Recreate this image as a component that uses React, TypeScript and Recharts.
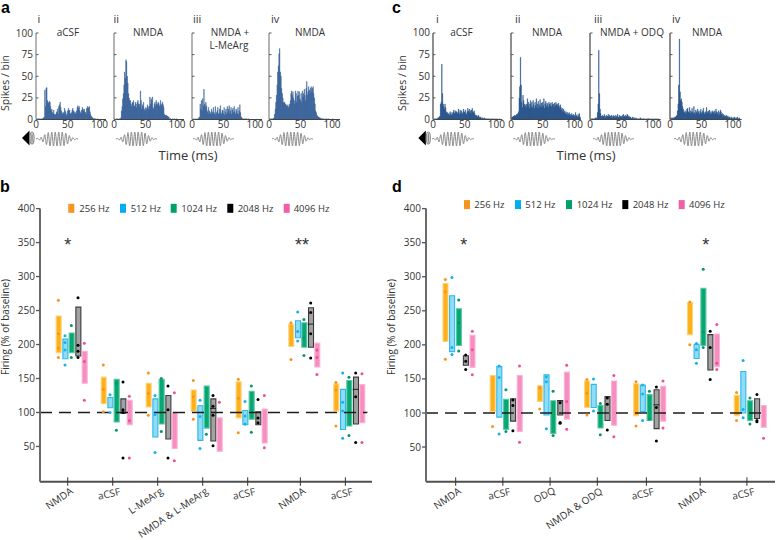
import React from "react";
import { BarChart, Bar, ComposedChart, Cell, LineChart, Line, Scatter, XAxis, YAxis, ReferenceLine } from "recharts";

const FONT = "'Open Sans', sans-serif";
const AXIS = "#595959";

// ---------- histogram data (spikes per 1 ms bin) ----------
const histAi = [0,0,1,0,1,0,1,0,1,0,1,1,2,3,34,15,36,37,22,20,19,21,20,15,10,12,8,7,11,6,5,6,8,9,12,6,15,17,20,14,10,8,6,8,7,13,10,8,5,6,10,13,10,11,7,6,8,11,13,10,9,7,8,6,10,14,16,13,15,10,8,7,11,14,12,10,12,9,8,6,13,15,13,14,15,9,6,4,3,2,1,1,1,0,1,0,0,1,0,0,0,0,0,0,0];
const histAii = [0,1,0,0,1,0,1,0,0,1,1,2,10,15,24,30,40,55,48,69,67,50,42,30,25,22,22,18,15,20,19,22,16,15,20,18,14,20,22,18,15,18,33,22,12,17,15,20,12,10,14,11,13,17,15,12,15,26,18,24,22,26,14,12,18,20,16,22,18,17,20,19,15,17,22,16,18,20,17,14,6,5,5,5,4,4,3,3,1,1,1,0,0,1,0,0,1,0,0,1,0,0,0,0,0];
const histAiii = [0,0,1,0,0,1,0,0,1,0,1,2,3,18,12,22,10,24,16,35,18,14,20,16,10,8,14,6,10,8,6,12,9,7,14,8,6,15,5,8,10,14,7,6,12,16,8,6,11,10,7,14,5,9,12,6,15,8,12,16,7,10,14,6,11,13,8,15,9,6,12,10,7,14,6,10,17,8,3,2,1,1,0,1,0,1,0,1,0,0,1,0,0,0,0,0,0,0,0,0];
const histAiv = [1,0,1,0,1,0,1,1,2,6,12,20,28,40,55,62,76,82,55,50,36,30,25,20,19,20,18,17,16,15,17,14,15,18,22,30,33,28,32,25,22,18,33,30,20,27,33,28,32,24,22,30,20,33,26,30,35,28,22,36,44,28,32,38,34,30,36,38,32,36,38,30,25,18,10,8,5,4,3,3,2,2,1,1,1,1,0,1,0,0,1,0,1,0,0,1,0,0,0,0,0,1,0,0,0];
const histCi = [0,0,1,0,1,0,1,1,2,2,3,4,18,20,64,30,18,15,12,18,14,9,7,8,6,7,5,9,7,5,8,6,9,11,7,8,10,9,8,7,12,9,6,11,7,10,8,6,12,9,8,11,7,6,9,13,10,8,12,10,7,11,13,9,8,10,7,5,4,5,3,4,5,3,2,3,2,1,2,1,1,2,1,1,0,1,1,0,1,0,1,0,0,1,0,1,0,0,1,0,0,1,0,0,0,1,0,0,0,0];
const histCii = [1,2,3,3,4,4,5,4,5,6,6,7,9,25,38,72,40,20,14,28,22,18,15,17,14,18,24,16,20,13,18,22,15,20,14,22,17,13,20,16,24,14,18,21,13,17,23,15,19,14,20,16,24,13,18,21,15,19,17,14,20,18,16,19,15,20,17,18,14,19,16,20,17,18,15,19,16,13,17,14,11,13,9,12,8,10,7,9,6,8,5,7,8,5,6,4,7,5,4,6,5,3,8,5,4,3,6,4,7,3,2];
const histCiii = [0,0,1,0,1,1,0,1,1,2,1,2,8,18,80,30,12,7,4,3,5,4,3,6,4,2,5,3,4,6,3,5,4,3,5,4,2,5,3,4,2,5,3,4,6,3,2,5,4,3,4,2,5,6,3,4,5,3,4,6,5,3,4,2,3,2,1,2,3,1,2,1,1,2,1,0,1,1,0,1,2,0,1,0,1,1,0,1,0,0,1,0,1,1,0,1,0,0,1,0,1,0,0,1,0,1,0,0,1,0,0];
const histCiv = [1,1,2,1,2,1,2,2,3,3,4,5,10,18,40,93,32,22,24,20,15,12,9,8,10,7,9,12,13,9,8,14,7,10,8,13,9,7,15,8,6,11,9,7,12,8,10,6,9,12,7,8,10,13,8,6,9,7,14,9,7,10,8,11,6,9,7,10,8,9,6,10,7,12,9,8,6,10,5,8,11,9,6,7,4,6,3,5,4,3,5,3,4,2,3,2,1,3,2,1,2,1,3,2,1,2,1,3,1,1,2];

const waveform = [0,0.08,-0.15,0.25,-0.42,0.62,-0.8,0.92,-1,1,-1,1,-1,1,-1,1,-0.95,0.85,-0.7,0.5,-0.32,0.2,-0.1,0.05,0];

const histTicksY = [0,25,50,75,100];
const histTicksX = [0,50,100];

// ---------- panel b ----------
const catsB = ["NMDA","aCSF","L-MeArg","NMDA & L-MeArg","aCSF","NMDA","aCSF"];
const posB = [0,1,2,3,4,5.17,6.17];
const offsetB = [-0.209,-0.06,0.08,0.229,0.369];
const b256Low = [188,113,108,102,92,197,102];
const b256High = [242,152,143,133,145,230,142];
const b256Dots = [[265,181,216,195],[170,101,134],[158,96,128],[147,90,123],[149,70,121],[178,232],[144,80,133]];
const b512Low = [179,107,64,59,82,210,75];
const b512High = [208,122,120,110,103,235,134];
const b512Dots = [[213,170,203,192],[126,100],[125,97,41],[118,47,94],[116,83,95],[248,205,219],[158,62,115,102]];
const b1024Low = [188,86,83,77,90,196,80];
const b1024High = [217,149,149,139,131,232,147];
const b1024Dots = [[228,181],[143,74],[150,72],[68],[139,71],[237,184,210],[152,66]];
const b2048Low = [183,99,61,58,82,196,83];
const b2048High = [255,120,125,120,101,254,152];
const b2048Dots = [[269,181,199,190],[145,100,104,33],[139,104,33],[125,109,96,51],[119,92,85],[261,180,247,216],[158,123,56]];
const b2048Median = [null,null,null,106,null,230,134];
const b4096Low = [143,82,47,43,55,167,85];
const b4096High = [190,118,100,92,105,202,141];
const b4096Dots = [[202,118,175],[124,33,88],[129,29],[115],[125,48],[156,192,181],[157,56]];

// ---------- panel d ----------
const catsD = ["NMDA","aCSF","ODQ","NMDA & ODQ","aCSF","NMDA","aCSF"];
const posD = [0,1,2,3,4.04,5.18,6.17];
const offsetD = [-0.22,-0.08,0.064,0.212,0.352];
const d256Low = [205,102,117,108,96,215,96];
const d256High = [290,155,140,147,143,262,126];
const d256Dots = [[296,179,278],[80],[106,137],[149,97,129],[146,81],[200,263],[130,89]];
const d512Low = [190,94,97,108,102,180,100];
const d512High = [272,168,156,142,141,201,161];
const d512Dots = [[299,186,196],[169,152,69],[153,146,77],[150,103],[141,89,128],[202,173,193],[177,93,105]];
const d1024Low = [199,76,70,78,89,199,89];
const d1024High = [253,120,118,111,127,283,118];
const d1024Dots = [[266,191,232],[134,73],[132,67],[114,68],[132,91],[311,196,219],[122,84]];
const d2048Low = [170,88,97,89,77,163,92];
const d2048High = [184,121,118,124,134,215,121];
const d2048Dots = [[185,164,176],[119,111,74],[115,86,85],[122,113,75],[138,108,59],[220,149,196],[127,89,87]];
const d2048Median = [null,null,118,null,112,null,null];
const d4096Low = [167,73,91,82,88,168,79];
const d4096High = [214,155,160,147,139,216,111];
const d4096Dots = [[220,156,193],[169,57],[170,76,117],[155,65],[147,78],[230,164,173],[63]];

const freqLabels = ["256 Hz","512 Hz","1024 Hz","2048 Hz","4096 Hz"];
const barFill = ["#fdb017","#8fdcf8","#08a672","#a2a2a2","#f78ebf"];
const barStroke = ["#fdd27f","#2cb8ea","#55c9a2","#3a3a3a","#f9b3d5"];
const dotFill = ["#f7941d","#16b1e6","#0a9468","#000000","#ee4f9c"];
const legendFill = ["#f7941d","#00aeef","#00a06b","#000000","#f05fa5"];
const yTicks = [50,100,150,200,250,300,350,400];

function rowsFor(lows: number[][], highs: number[][], pos: number[], offset: number[]) {
  const rows: any[] = [];
  lows.forEach((low, s) => low.forEach((lo, g) => rows.push({ x: pos[g] + offset[s], range: [lo, highs[s][g]], s })));
  return rows;
}
function dotsFor(dots: number[][], pos: number[], offset: number, s: number) {
  const out: any[] = [];
  dots.forEach((list, g) => list.forEach((y) => out.push({ x: pos[g] + offset, y })));
  return out;
}

const YTick = ({ x, y, payload, showY }: any) => (
  <g>
    <line x1={x} x2={x + 2.5} y1={y} y2={y} stroke={AXIS} strokeWidth={1} />
    {showY ? <text x={x - 3} y={y + 3.5} textAnchor="end" fontSize={10} fontFamily={FONT} fill="#333">{payload.value}</text> : null}
  </g>
);

function Hist({ left, width, data, color, showY, axisW, pxPerMs }: any) {
  const rows = data.map((v: number, i: number) => ({ t: i, v }));
  return (
    <div style={{ position: "absolute", left: left - 30, top: 20 }}>
      <BarChart width={width + 30 + 12} height={118} data={rows} margin={{ top: 13, left: 0, right: 12, bottom: 0 }} barCategoryGap={0} barGap={0}>
        <XAxis dataKey="t" type="number" domain={[0, width / pxPerMs]} ticks={histTicksX} interval={0} height={18.5} tickLine={false} tickSize={0} tickMargin={1}
          axisLine={{ stroke: "#444", strokeWidth: 1 }} tick={{ fontSize: 10, fontFamily: FONT, fill: "#333" }} allowDataOverflow />
        <YAxis type="number" domain={[0, 100]} ticks={histTicksY} width={30} tickSize={0} tickMargin={0} interval={0}
          axisLine={{ stroke: "#6a6a6a", strokeWidth: axisW }} tick={<YTick showY={showY} />} />
        <Bar dataKey="v" fill={color} stroke={color} strokeWidth={0.3} isAnimationActive={false} />
      </BarChart>
    </div>
  );
}

function Wave({ left, width }: any) {
  const rows = waveform.map((v) => ({ v }));
  return (
    <div style={{ position: "absolute", left, top: 131 }}>
      <LineChart width={width} height={16} data={rows} margin={{ top: 1, bottom: 1, left: 0, right: 0 }}>
        <YAxis hide domain={[-1, 1]} />
        <XAxis hide />
        <Line dataKey="v" type="monotone" stroke="#8a8a8a" strokeWidth={1} dot={false} isAnimationActive={false} />
      </LineChart>
    </div>
  );
}

const labelAngle: Record<string, number> = { aCSF: -13, ODQ: -28 };

const CatTick = ({ x, y, payload, labels, pos }: any) => {
  const i = pos.indexOf(payload.value);
  const name = labels[i];
  const angle = labelAngle[name] ?? -34;
  const ax = x + (name === "aCSF" ? 8 : 6);
  const ay = y + (name === "aCSF" ? 13 : 11);
  return (
    <g>
      <line x1={x} x2={x} y1={y - 4.5} y2={y + 4} stroke="#333" strokeWidth={1} />
      <text x={ax} y={ay} textAnchor="end" fontSize={10} fontFamily={FONT} fill="#333" transform={`rotate(${angle} ${ax} ${ay})`}>{name}</text>
    </g>
  );
};

function Main({ left, width, lows, highs, dots, median, pos, offset, labels, xDomain, yDomain, lineEnd }: any) {
  const rows = rowsFor(lows, highs, pos, offset);
  const medianRows = median
    .map((y: number | null, g: number) => ({ x: pos[g] + offset[3], y }))
    .filter((r: any) => r.y !== null);
  return (
    <div style={{ position: "absolute", left, top: 195 }}>
      <ComposedChart width={width} height={345} data={rows} margin={{ top: 13.6, left: 8, right: 0, bottom: 0 }} barSize={5}>
        <XAxis dataKey="x" type="number" domain={xDomain} ticks={pos} interval={0} height={58.2} tickSize={0} tickMargin={0} allowDataOverflow
          axisLine={{ stroke: "#4f4f4f", strokeWidth: 2 }} tick={<CatTick labels={labels} pos={pos} />} />
        <YAxis type="number" domain={yDomain} ticks={yTicks} interval={0} width={32} tickSize={4} tickMargin={1} allowDataOverflow
          axisLine={{ stroke: "#6a6a6a", strokeWidth: 2 }} tickLine={{ stroke: "#555", strokeWidth: 1.3 }}
          tick={{ fontSize: 10, fontFamily: FONT, fill: "#333" }} />
        <Bar dataKey="range" isAnimationActive={false}>
          {rows.map((r: any, i: number) => (
            <Cell key={i} fill={barFill[r.s]} stroke={barStroke[r.s]} strokeWidth={1.1} />
          ))}
        </Bar>
        <ReferenceLine segment={[{ x: xDomain[0], y: 100 }, { x: lineEnd, y: 100 }]} stroke="#1c1c1c" strokeWidth={1.4} strokeDasharray="12 7" />
        {dots.map((d: number[][], s: number) => (
          <Scatter key={s} data={dotsFor(d, pos, offset[s], s)} dataKey="y" isAnimationActive={false}
            shape={(p: any) => <circle cx={p.cx} cy={p.cy} r={1.5} fill={dotFill[s]} />} />
        ))}
        <Scatter data={medianRows} dataKey="y" isAnimationActive={false}
          shape={(p: any) => <line x1={p.cx - 3} x2={p.cx + 3} y1={p.cy} y2={p.cy} stroke="#222" strokeWidth={1} />} />
      </ComposedChart>
    </div>
  );
}

const Speaker = ({ x }: any) => (
  <g>
    <path d={`M${x} 138 L${x + 7.5} 130.5 L${x + 7.5} 145.5 Z`} fill="#000" />
    <ellipse cx={x + 10} cy={138} rx={2} ry={6} fill="none" stroke="#888" strokeWidth={1.2} />
    <ellipse cx={x + 10} cy={138} rx={0.8} ry={5} fill="#888" />
  </g>
);

const Txt = ({ x, y, size = 10, anchor = "start", bold, rot, family = FONT, fill = "#333", children }: any) => (
  <text x={x} y={y} fontSize={size} textAnchor={anchor} fontWeight={bold ? 700 : 400} fontFamily={family} fill={fill}
    transform={rot ? `rotate(${rot} ${x} ${y})` : undefined}>{children}</text>
);

const legendB = [[68.3,79.3],[120,130.7],[170.7,181.3],[227.3,237.7],[283.7,293.7]];
const legendD = [[464,474.3],[515,525.3],[566,576.7],[622.3,632.7],[678.7,689]];

const Legend = ({ items, y }: any) => (
  <g>
    {items.map(([sx, tx]: number[], i: number) => (
      <g key={i}>
        <rect x={sx} y={y - 4.5} width={6} height={9} fill={legendFill[i]} />
        <Txt x={tx} y={y + 3.5} size={9.5}>{freqLabels[i]}</Txt>
      </g>
    ))}
  </g>
);

const A = "#2f5b96";
const C = "#1c4a86";
const LETTER = "'Liberation Sans', sans-serif";

export default function App() {
  return (
    <div style={{ position: "absolute", left: 0, top: 0, width: 777, height: 540, background: "#fff", overflow: "hidden" }}>
      <Hist left={35.5} width={70} data={histAi} color={A} showY axisW={1} pxPerMs={0.635} />
      <Hist left={113.5} width={70} data={histAii} color={A} axisW={1} pxPerMs={0.63} />
      <Hist left={191.7} width={70} data={histAiii} color={A} axisW={1} pxPerMs={0.63} />
      <Hist left={269.3} width={71} data={histAiv} color={A} axisW={1} pxPerMs={0.63} />
      <Hist left={432.7} width={69.3} data={histCi} color={C} showY axisW={1.5} pxPerMs={0.633} />
      <Hist left={511} width={69.7} data={histCii} color={C} axisW={1.5} pxPerMs={0.633} />
      <Hist left={590} width={70.7} data={histCiii} color={C} axisW={1.5} pxPerMs={0.63} />
      <Hist left={670} width={71.7} data={histCiv} color={C} axisW={1.5} pxPerMs={0.63} />

      <Wave left={35.7} width={42} />
      <Wave left={115.7} width={41} />
      <Wave left={192.7} width={41} />
      <Wave left={271.7} width={41} />
      <Wave left={431.7} width={42} />
      <Wave left={513} width={42} />
      <Wave left={593} width={41} />
      <Wave left={674} width={42} />

      <Main left={0} width={372} lows={[b256Low,b512Low,b1024Low,b2048Low,b4096Low]} highs={[b256High,b512High,b1024High,b2048High,b4096High]}
        dots={[b256Dots,b512Dots,b1024Dots,b2048Dots,b4096Dots]} median={b2048Median} pos={posB} offset={offsetB} labels={catsB}
        xDomain={[-0.616,6.762]} yDomain={[-2,400]} lineEnd={6.66} />
      <Main left={386} width={389} lows={[d256Low,d512Low,d1024Low,d2048Low,d4096Low]} highs={[d256High,d512High,d1024High,d2048High,d4096High]}
        dots={[d256Dots,d512Dots,d1024Dots,d2048Dots,d4096Dots]} median={d2048Median} pos={posD} offset={offsetD} labels={catsD}
        xDomain={[-0.629,6.765]} yDomain={[-1,400]} lineEnd={6.57} />

      <svg width={777} height={540} style={{ position: "absolute", left: 0, top: 0, pointerEvents: "none" }}>
        <Txt x={1} y={13} size={16} bold family={LETTER} fill="#000">a</Txt>
        <Txt x={392} y={13} size={16} bold family={LETTER} fill="#000">c</Txt>
        <Txt x={0} y={192} size={16} bold family={LETTER} fill="#000">b</Txt>
        <Txt x={392} y={192} size={16} bold family={LETTER} fill="#000">d</Txt>

        <Txt x={37.5} y={23} size={11}>i</Txt>
        <Txt x={113.5} y={23} size={11}>ii</Txt>
        <Txt x={193} y={23} size={11}>iii</Txt>
        <Txt x={271} y={23} size={11}>iv</Txt>
        <Txt x={436} y={23} size={11}>i</Txt>
        <Txt x={515} y={23} size={11}>ii</Txt>
        <Txt x={594} y={23} size={11}>iii</Txt>
        <Txt x={672} y={23} size={11}>iv</Txt>

        <Txt x={68} y={36} anchor="middle">aCSF</Txt>
        <Txt x={148} y={36} anchor="middle">NMDA</Txt>
        <Txt x={230} y={36} anchor="middle">NMDA +</Txt>
        <Txt x={229} y={49} anchor="middle">L-MeArg</Txt>
        <Txt x={310} y={36} anchor="middle">NMDA</Txt>
        <Txt x={461.5} y={36} anchor="middle">aCSF</Txt>
        <Txt x={547} y={36} anchor="middle">NMDA</Txt>
        <Txt x={632} y={36} anchor="middle">NMDA + ODQ</Txt>
        <Txt x={707} y={36} anchor="middle">NMDA</Txt>

        <Txt x={9} y={83} anchor="middle" size={10.5} rot={-90}>Spikes / bin</Txt>
        <Txt x={406} y={83} anchor="middle" size={10.5} rot={-90}>Spikes / bin</Txt>
        <Txt x={188} y={160} anchor="middle" size={13}>Time (ms)</Txt>
        <Txt x={586} y={160} anchor="middle" size={13}>Time (ms)</Txt>

        <Speaker x={22} />
        <Speaker x={418.3} />

        <Legend items={legendB} y={208.3} />
        <Legend items={legendD} y={204.6} />

        <Txt x={9} y={327} anchor="middle" size={10} rot={-90}>Firing (% of baseline)</Txt>
        <Txt x={395} y={327} anchor="middle" size={10} rot={-90}>Firing (% of baseline)</Txt>

        <Txt x={67.7} y={251} anchor="middle" size={18} family={LETTER}>*</Txt>
        <Txt x={302} y={251} anchor="middle" size={18} family={LETTER}>**</Txt>
        <Txt x={463.7} y={251} anchor="middle" size={18} family={LETTER}>*</Txt>
        <Txt x={705.7} y={251} anchor="middle" size={18} family={LETTER}>*</Txt>
      </svg>
    </div>
  );
}
